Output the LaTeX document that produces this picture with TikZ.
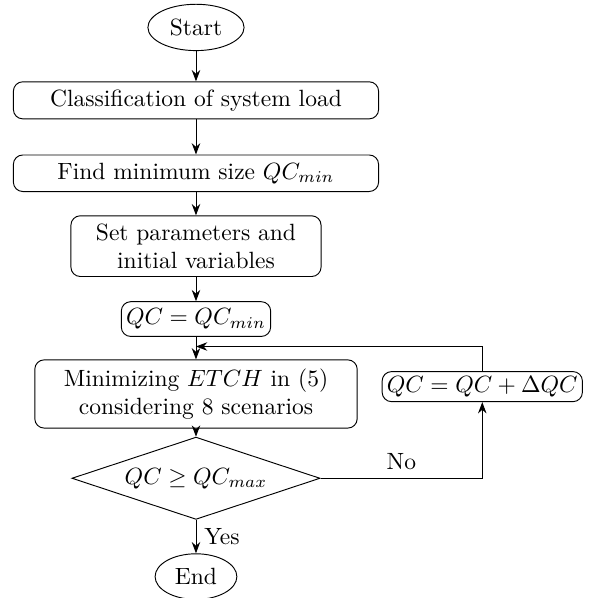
\documentclass[tikz,border=0pt]{standalone}
\usepackage{amsmath,amssymb}
\usetikzlibrary{arrows.meta,shapes,calc,positioning}

\begin{document}
\begin{tikzpicture}
			\tikzstyle{every node}=[font=\normalsize]
			\tikzstyle{terminal}=[draw, ellipse]
			\tikzstyle{procbox}=[draw, rounded corners, align=center]
			\tikzstyle{decision}=[draw, diamond, aspect=3, inner sep=0pt, minimum width=3.71cm, minimum height=1.23cm]
			\tikzstyle{flow}=[line width=0.4pt, ->, >=Stealth]
			\useasboundingbox (0,0) rectangle (8.97,-8.94);
			\node [terminal] (start) at (2.93,-0.41) {Start};
			\node [procbox, minimum width=5.46cm, minimum height=0.54cm] (classify) at (2.93,-1.50) {Classification of system load};
			\node [procbox, minimum width=5.46cm, minimum height=0.54cm] (findmin) at (2.93,-2.59) {Find minimum size $QC_{min}$};
			\node [procbox, minimum width=3.74cm, minimum height=0.90cm] (setpar) at (2.93,-3.68) {Set parameters and\\initial variables};
			\node [procbox, inner sep=2pt, minimum height=0.52cm] (qcinit) at (2.93,-4.77) {$QC = QC_{min}$};
			\node [procbox, minimum width=4.82cm, minimum height=1.02cm] (minetch) at (2.93,-5.89) {Minimizing $ETCH$ in (5)\\considering 8 scenarios};
			\node [decision] (check) at (2.93,-7.15) {$QC \geq QC_{max}$};
			\node [terminal] (stop) at (2.93,-8.62) {End};
			\node [procbox, inner sep=2pt, minimum height=0.40cm] (qcinc) at (7.21,-5.78) {$QC = QC + \Delta QC$};
			\coordinate (loopup) at (7.21,-5.18);
			\coordinate (loopin) at (2.93,-5.18);
			\draw [flow] (start) -- (classify);
			\draw [flow] (classify) -- (findmin);
			\draw [flow] (findmin) -- (setpar);
			\draw [flow] (setpar) -- (qcinit);
			\draw [flow] (qcinit) -- (minetch);
			\draw [flow] (minetch) -- (check);
			\draw [flow] (check) -- node [right] {Yes} (stop);
			\draw [flow] (check.east) -- node [above, pos=0.5] {No} (check.east -| qcinc) -- (qcinc);
			\draw [flow] (qcinc) -- (loopup) -- (loopin);
		\end{tikzpicture}
\end{document}
